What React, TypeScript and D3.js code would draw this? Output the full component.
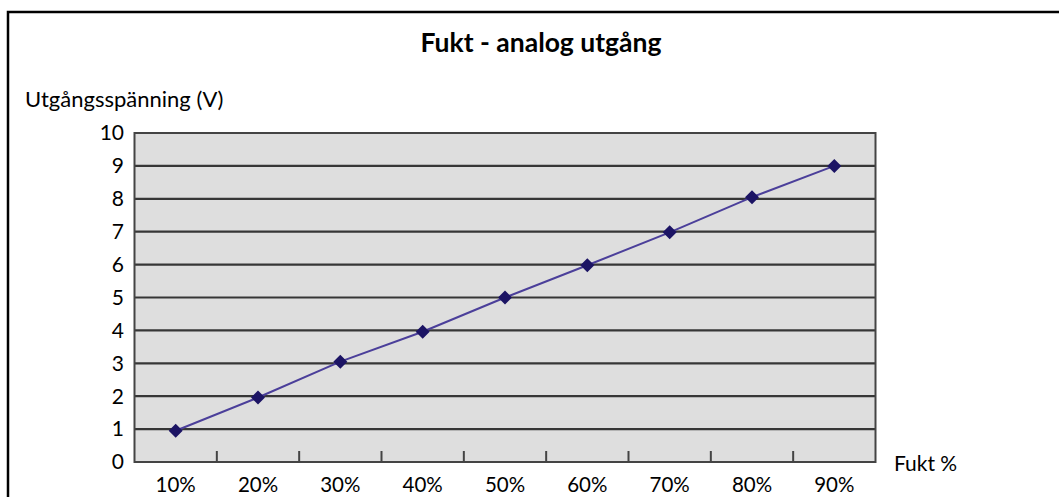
import React from "react";
import * as d3 from "d3";

const categories = ["10%", "20%", "30%", "40%", "50%", "60%", "70%", "80%", "90%"];
const voltages = [0.95, 1.96, 3.05, 3.96, 5.0, 5.98, 6.98, 8.05, 9.0];
const yTicks = [0, 1, 2, 3, 4, 5, 6, 7, 8, 9, 10];
const title = "Fukt - analog utgång";
const yTitle = "Utgångsspänning (V)";
const xTitle = "Fukt %";

const W = 1059;
const H = 497;
const FONT = "Lato, 'Open Sans', sans-serif";

export default function App() {
  const left = 134.5, right = 875.5, top = 133, bottom = 462;
  const x = d3.scaleBand<string>().domain(categories).range([left, right]);
  const y = d3.scaleLinear().domain([0, 10]).range([bottom, top]);
  const line = d3
    .line<number>()
    .x((_, i) => (x(categories[i]) as number) + x.bandwidth() / 2)
    .y((d) => y(d));
  const boundaries = categories.slice(1).map((c) => x(c) as number);
  const r = 7;
  const diamond = `M0,${-r}L${r},0L0,${r}L${-r},0Z`;

  return (
    <svg
      width={W}
      height={H}
      style={{ position: "absolute", left: 0, top: 0, background: "#fff" }}
    >
      <rect x={8} y={12} width={W + 10} height={H + 10} fill="#fff" stroke="#000" strokeWidth={2.5} />
      <text x={541} y={52} textAnchor="middle" fontFamily={FONT} fontWeight="bold" fontSize={26.5} fill="#000">
        {title}
      </text>
      <text x={25} y={107} fontFamily={FONT} fontSize={22} fill="#000">
        {yTitle}
      </text>
      <rect x={left} y={top} width={right - left} height={bottom - top} fill="#dedede" />
      {yTicks.slice(1, -1).map((t) => (
        <line key={t} x1={left} x2={right} y1={y(t)} y2={y(t)} stroke="#363636" strokeWidth={2.2} />
      ))}
      <rect x={left} y={top} width={right - left} height={bottom - top} fill="none" stroke="#444" strokeWidth={2} />
      {boundaries.map((b, i) => (
        <line key={i} x1={b} x2={b} y1={bottom} y2={bottom - 11} stroke="#444" strokeWidth={2} />
      ))}
      {yTicks.map((t) => (
        <text key={t} x={124} y={y(t)} dy="0.35em" textAnchor="end" fontFamily={FONT} fontSize={21} fill="#000">
          {t}
        </text>
      ))}
      {categories.map((c) => (
        <text
          key={c}
          x={(x(c) as number) + x.bandwidth() / 2}
          y={492}
          textAnchor="middle"
          fontFamily={FONT}
          fontSize={20.5}
          fill="#000"
        >
          {c}
        </text>
      ))}
      <text x={894} y={471} fontFamily={FONT} fontSize={21} fill="#000">
        {xTitle}
      </text>
      <path d={line(voltages) as string} fill="none" stroke="#4b3f9a" strokeWidth={2} />
      {voltages.map((v, i) => (
        <path
          key={i}
          d={diamond}
          transform={`translate(${(x(categories[i]) as number) + x.bandwidth() / 2},${y(v)})`}
          fill="#1c1464"
        />
      ))}
    </svg>
  );
}
